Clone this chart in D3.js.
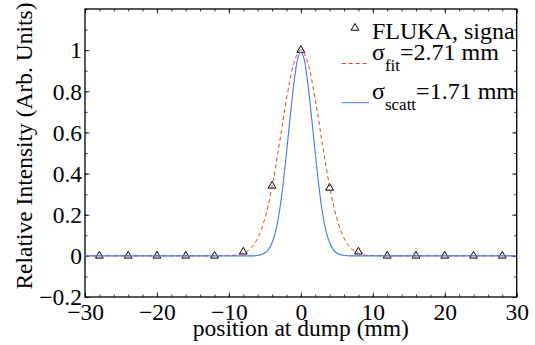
<!DOCTYPE html>
<html>
<head>
<meta charset="utf-8">
<script src="https://cdn.jsdelivr.net/npm/d3@7"></script>
<style>
body { margin: 0; background: #fff; }
#vis { width: 535px; height: 345px; }
</style>
</head>
<body>
<div id="vis"></div>
<script>
// FLUKA signal points
var fluka_x = [-28, -24, -20, -16, -12, -8, -4, 0, 4, 8, 12, 16, 20, 24, 28];
var fluka_y = [0, 0, 0, 0, 0, 0.02, 0.34, 1.0, 0.33, 0.02, 0, 0, 0, 0, 0];

// fitted curve, sigma_fit = 2.71 mm
var fit_x = [-30, -12, -10, -9, -8, -7, -6, -5, -4, -3, -2, -1, 0, 1, 2, 3, 4, 5, 6, 7, 8, 9, 10, 12, 30];
var fit_y = [0, 0, 0.001, 0.004, 0.013, 0.036, 0.086, 0.182, 0.336, 0.542, 0.762, 0.934, 1.0,
             0.934, 0.762, 0.542, 0.336, 0.182, 0.086, 0.036, 0.013, 0.004, 0.001, 0, 0];

// scattering curve, sigma_scatt = 1.71 mm
var scatt_x = [-30, -8, -7, -6, -5, -4.5, -4, -3.5, -3, -2.5, -2, -1.5, -1, -0.5, 0,
               0.5, 1, 1.5, 2, 2.5, 3, 3.5, 4, 4.5, 5, 6, 7, 8, 30];
var scatt_y = [0, 0, 0, 0.002, 0.014, 0.03, 0.064, 0.12, 0.21, 0.34, 0.5, 0.67, 0.83, 0.95, 0.99,
               0.95, 0.83, 0.67, 0.5, 0.34, 0.21, 0.12, 0.064, 0.03, 0.014, 0.002, 0, 0, 0];

var x_ticks = [-30, -20, -10, 0, 10, 20, 30];
var y_ticks = [-0.2, 0, 0.2, 0.4, 0.6, 0.8, 1];

var color_fit = "#e8421f";
var color_scatt = "#4277f2";
var font = "'Liberation Serif', serif";

var width = 535, height = 345;
var margin = {top: 9, right: 18.3, bottom: 48, left: 85};

var svg = d3.select('#vis')
    .append('svg')
    .attr('width', width)
    .attr('height', height)
    .append('g')
    .attr('transform', 'translate(' + margin.left + ',' + margin.top + ')');

width = width - margin.left - margin.right;
height = height - margin.top - margin.bottom;

var x_scale = d3.scaleLinear().domain([-30, 30]).range([0, width]);
var y_scale = d3.scaleLinear().domain([-0.2, 1.2]).range([height, 0]);

svg.append('clipPath').attr('id', 'clip')
    .append('rect').attr('width', width).attr('height', height);

// minor ticks every 2 mm / 0.1
var x_minor = d3.range(-30, 31, 2);
var y_minor = d3.range(-2, 13).map(function(d) { return d / 10; });

function serif(sel, size) {
    return sel.style('font-family', font).style('font-size', size + 'px').style('fill', '#000');
}

function add_axis(axis, transform, cls) {
    var g = svg.append('g').attr('class', cls).attr('transform', transform).call(axis);
    g.select('.domain').remove();
    g.selectAll('line').attr('stroke', '#000').attr('stroke-width', 0.8);
    serif(g.selectAll('text'), 23.5);
    return g;
}

// bottom
add_axis(d3.axisBottom(x_scale).tickValues(x_minor).tickSize(-2.5).tickFormat(''), 'translate(0,' + height + ')', 'x minor');
add_axis(d3.axisBottom(x_scale).tickValues(x_ticks).tickSize(-4.5).tickPadding(6).tickFormat(d3.format('')), 'translate(0,' + height + ')', 'x axis');
// top
add_axis(d3.axisTop(x_scale).tickValues(x_minor).tickSize(-2.5).tickFormat(''), '', 'x2 minor');
add_axis(d3.axisTop(x_scale).tickValues(x_ticks).tickSize(-4.5).tickFormat(''), '', 'x2 axis');
// left
add_axis(d3.axisLeft(y_scale).tickValues(y_minor).tickSize(-2.5).tickFormat(''), '', 'y minor');
add_axis(d3.axisLeft(y_scale).tickValues(y_ticks).tickSize(-4.5).tickPadding(3).tickFormat(d3.format('')), '', 'y axis')
    .selectAll('text').attr('dy', '0.33em');
// right
add_axis(d3.axisRight(y_scale).tickValues(y_minor).tickSize(-2.5).tickFormat(''), 'translate(' + width + ',0)', 'y2 minor');
add_axis(d3.axisRight(y_scale).tickValues(y_ticks).tickSize(-4.5).tickFormat(''), 'translate(' + width + ',0)', 'y2 axis');

// frame
svg.append('rect')
    .attr('width', width).attr('height', height)
    .attr('fill', 'none').attr('stroke', '#000').attr('stroke-width', 1.3);

// axis labels
serif(svg.append('text'), 23.5)
    .attr('transform', 'translate(' + (width / 2) + ',' + (height + 38.5) + ')')
    .style('text-anchor', 'middle')
    .text('position at dump (mm)');

serif(svg.append('text'), 23.5)
    .attr('transform', 'rotate(-90)')
    .attr('x', -height / 2 + 7)
    .attr('y', -53)
    .style('text-anchor', 'middle')
    .text('Relative Intensity (Arb. Units)');

var plot = svg.append('g').attr('clip-path', 'url(#clip)');

var triangle = d3.symbol().type(d3.symbolTriangle).size(26);

// markers
plot.selectAll('.marker')
    .data(fluka_x.map(function(d, i) { return {x: d, y: fluka_y[i]}; }))
    .enter()
    .append('path')
    .attr('class', 'marker')
    .attr('d', triangle)
    .attr('transform', function(d) { return 'translate(' + x_scale(d.x) + ',' + y_scale(d.y) + ')'; })
    .attr('fill', 'none')
    .attr('stroke', '#000')
    .attr('stroke-width', 1);

var line = d3.line()
    .x(function(d) { return x_scale(d[0]); })
    .y(function(d) { return y_scale(d[1]); })
    .curve(d3.curveMonotoneX);

plot.append('path')
    .datum(fit_x.map(function(d, i) { return [d, fit_y[i]]; }))
    .attr('d', line)
    .attr('fill', 'none')
    .attr('stroke', color_fit)
    .attr('stroke-width', 1)
    .attr('stroke-dasharray', '4,3');

plot.append('path')
    .datum(scatt_x.map(function(d, i) { return [d, scatt_y[i]]; }))
    .attr('d', line)
    .attr('fill', 'none')
    .attr('stroke', color_scatt)
    .attr('stroke-width', 1.1);

// legend (clipped by the axes box like the original)
var lx = 341.7 - margin.left, tx = 372 - margin.left;
var legend = plot.append('g');

legend.append('path')
    .attr('d', triangle)
    .attr('transform', 'translate(' + (355 - margin.left) + ',' + (28 - margin.top) + ')')
    .attr('fill', 'none').attr('stroke', '#000');
serif(legend.append('text'), 24)
    .attr('x', tx).attr('y', 38.5 - margin.top)
    .text('FLUKA, signal');

legend.append('line')
    .attr('x1', lx).attr('x2', 369 - margin.left)
    .attr('y1', 63.5 - margin.top).attr('y2', 63.5 - margin.top)
    .attr('stroke', color_fit).attr('stroke-dasharray', '4,3');
var t1 = serif(legend.append('text'), 24)
    .attr('x', tx).attr('y', 60 - margin.top);
t1.append('tspan').text('σ');
t1.append('tspan').attr('dy', 11).style('font-size', '17px').text('fit');
t1.append('tspan').attr('dy', -11).text('=2.71 mm');

legend.append('line')
    .attr('x1', lx).attr('x2', 369 - margin.left)
    .attr('y1', 102.7 - margin.top).attr('y2', 102.7 - margin.top)
    .attr('stroke', color_scatt);
var t2 = serif(legend.append('text'), 24)
    .attr('x', tx).attr('y', 98.5 - margin.top);
t2.append('tspan').text('σ');
t2.append('tspan').attr('dy', 11).style('font-size', '17px').text('scatt');
t2.append('tspan').attr('dy', -11).text('=1.71 mm');
</script>
</body>
</html>
